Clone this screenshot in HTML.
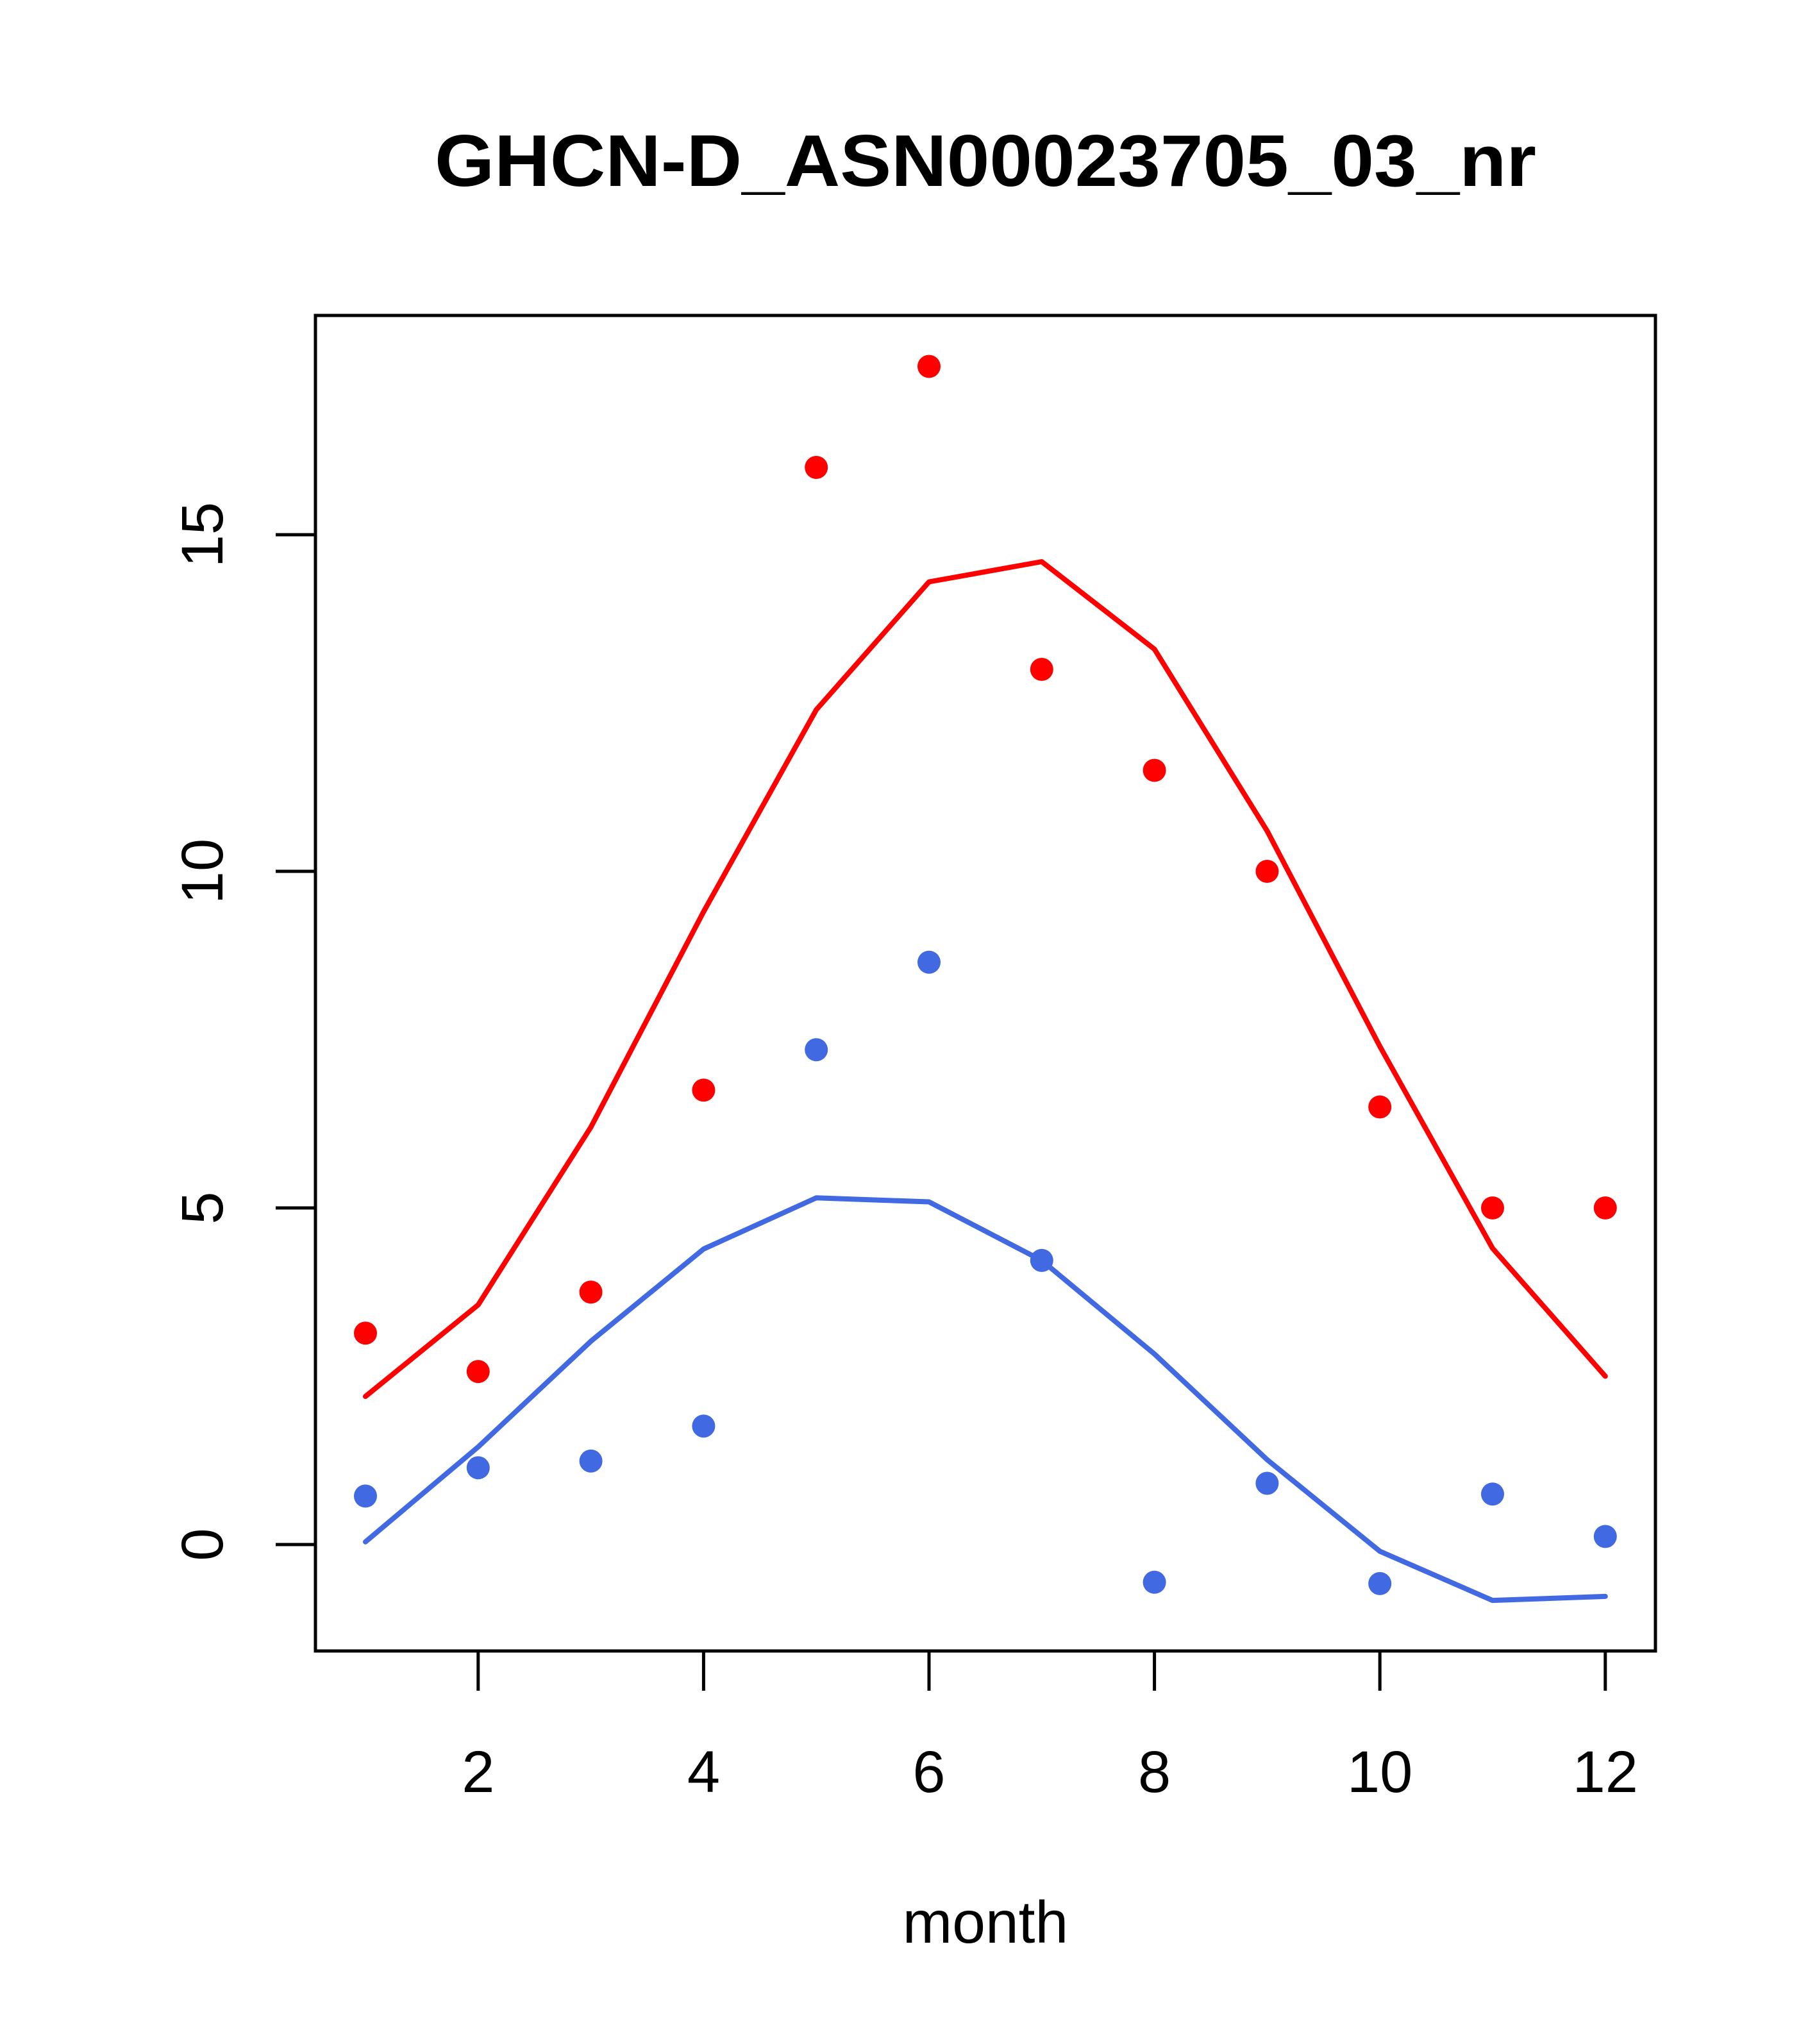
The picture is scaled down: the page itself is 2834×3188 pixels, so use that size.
<!DOCTYPE html>
<html><head><meta charset="utf-8"><style>html,body{margin:0;padding:0;background:#fff}svg{display:block}</style></head>
<body>
<svg id="chart" width="2834" height="3188" xmlns="http://www.w3.org/2000/svg" font-family="Liberation Sans, Arial, sans-serif">
<rect width="2834" height="3188" fill="#fff"/>
<text x="1537" y="290" font-size="114" font-weight="bold" text-anchor="middle" textLength="1718" lengthAdjust="spacingAndGlyphs">GHCN-D_ASN00023705_03_nr</text>
<rect x="492" y="492" width="2090" height="2083" fill="none" stroke="#000" stroke-width="5"/>
<g id="axes"></g>
<g id="marks"></g>
<text x="1537" y="3030" font-size="93" text-anchor="middle">month</text>
</svg>
<script>
const months = [1,2,3,4,5,6,7,8,9,10,11,12];
const redPoints = [3.14,2.57,3.75,6.75,16.0,17.5,13.0,11.5,10.0,6.5,5.0,5.0];
const redLine = [2.2,3.56,6.2,9.4,12.4,14.3,14.6,13.3,10.6,7.4,4.4,2.5];
const bluePoints = [0.72,1.14,1.24,1.76,7.35,8.65,4.22,-0.56,0.91,-0.58,0.75,0.12];
const blueLine = [0.04,1.45,3.02,4.39,5.15,5.09,4.22,2.83,1.26,-0.1,-0.83,-0.77];
const xTicks = [2,4,6,8,10,12];
const yTicks = [0,5,10,15];

const NS = 'http://www.w3.org/2000/svg';
function xs(m){return 570 + (m-1)*175.8;}
function ys(v){return 2409 - v*105.0;}
function mk(tag, attrs, parent){const e=document.createElementNS(NS,tag);for(const k in attrs)e.setAttribute(k,attrs[k]);parent.appendChild(e);return e;}
const axes=document.getElementById('axes'), marks=document.getElementById('marks');
xTicks.forEach(t=>{
  const l=mk('line',{x1:xs(t),x2:xs(t),y1:2575,y2:2637,stroke:'#000','stroke-width':5},axes);
  
  
  const tx=mk('text',{x:xs(t),y:2795,'font-size':92,'text-anchor':'middle'},axes);
  tx.textContent=t;
  
  
});
yTicks.forEach(t=>{
  const l=mk('line',{x1:430,x2:492,y1:ys(t),y2:ys(t),stroke:'#000','stroke-width':5},axes);
  
  
  const tx=mk('text',{x:0,y:0,'font-size':92,'text-anchor':'middle',transform:`translate(347,${ys(t)}) rotate(-90)`},axes);
  tx.textContent=t;
  
  
});
function line(vals,color,name){
  const p=mk('polyline',{points:vals.map((v,i)=>xs(months[i])+','+ys(v)).join(' '),fill:'none',stroke:color,'stroke-width':8,'stroke-linecap':'round','stroke-linejoin':'round'},marks);
  
  
}
function pts(vals,color,name){
  vals.forEach((v,i)=>{
    const c=mk('circle',{cx:xs(months[i]),cy:ys(v),r:18,fill:color},marks);
    
    
  });
}
line(redLine,'#ff0000','red-line');
line(blueLine,'#4169e1','blue-line');
pts(redPoints,'#ff0000','red-point');
pts(bluePoints,'#4169e1','blue-point');
</script>
</body></html>
